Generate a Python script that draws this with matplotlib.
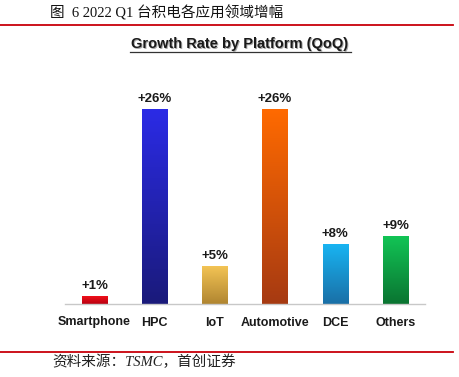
import numpy as np
import matplotlib.pyplot as plt
from matplotlib.colors import LinearSegmentedColormap
from matplotlib.lines import Line2D

categories = ['Smartphone', 'HPC', 'IoT', 'Automotive', 'DCE', 'Others']
growth = [1, 26, 5, 26, 8, 9]
labels = ['+1%', '+26%', '+5%', '+26%', '+8%', '+9%']
# top colour, bottom colour for the gradient fill
top_colors = ['#f0101a', '#2b2be6', '#f3c455', '#ff6a00', '#18b4f2', '#12c455']
bottom_colors = ['#b80010', '#1a1a7a', '#b08530', '#a63a12', '#1a6fa6', '#0a7431']

fig = plt.figure(figsize=(4.59, 3.77), dpi=100)
W, H = 459, 377

# page caption and red rules
fig.text(50 / W, 1 - 13 / H, '图  6 2022 Q1 台积电各应用领域增幅',
         family=['Liberation Serif', 'Noto Sans CJK SC'], fontsize=10.5,
         va='center', ha='left', color='#111111')
fig.add_artist(Line2D([0, 453 / W], [1 - 24.5 / H] * 2, color='#c8000a', lw=1.3))
fig.add_artist(Line2D([0, 453 / W], [1 - 352 / H] * 2, color='#c8000a', lw=1.3))
fig.text(52 / W, 1 - 362 / H, '资料来源：TSMC，首创证券',
         family=['Liberation Serif', 'Noto Sans CJK SC'], style='italic',
         fontsize=10.5, va='center', ha='left', color='#222222')

# chart title, underlined with a faint shadow
title_kw = dict(family='Liberation Sans', fontweight='bold', fontsize=10.5,
                ha='center', va='center')
fig.text(241 / W, 1 - 44.5 / H, 'Growth Rate by Platform (QoQ)', color='#aaaaaa', **title_kw)
fig.text(240 / W, 1 - 44 / H, 'Growth Rate by Platform (QoQ)', color='#1a1a1a', **title_kw)
fig.add_artist(Line2D([130 / W, 351 / W], [1 - 51.5 / H] * 2, color='#333333', lw=0.9))

ax = fig.add_axes([65 / W, 73 / H, 360 / W, 224 / H])
bw = 0.42
x = np.arange(len(categories))
grad = np.linspace(1, 0, 256).reshape(-1, 1)
for i, v in enumerate(growth):
    cmap = LinearSegmentedColormap.from_list('g', [bottom_colors[i], top_colors[i]])
    ax.imshow(grad, cmap=cmap, aspect='auto',
              extent=[x[i] - bw / 2, x[i] + bw / 2, 0, v], zorder=2)
    ax.text(x[i], v + 0.6, labels[i], ha='center', va='bottom',
            family='Liberation Sans', fontweight='bold', fontsize=9.5, color='#1a1a1a')
ax.set_xlim(-0.49, 5.49)
ax.set_ylim(0, 30)

for s in ['top', 'right', 'left']:
    ax.spines[s].set_visible(False)
ax.spines['bottom'].set_color('#c8c8c8')
ax.spines['bottom'].set_linewidth(1.0)
ax.set_yticks([])
ax.set_xticks(x)
ax.set_xticklabels(categories, family='Liberation Sans', fontweight='bold',
                   fontsize=9, color='#1a1a1a')
ax.tick_params(axis='x', length=0, pad=9)

fig.savefig('out.png', dpi=100)
